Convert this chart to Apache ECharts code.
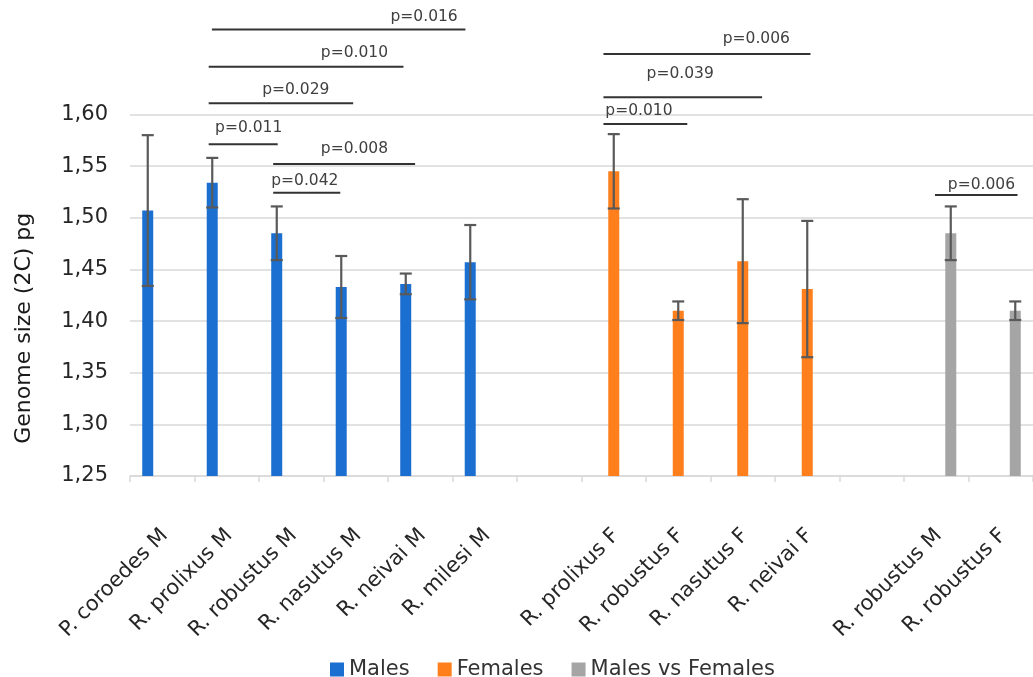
<!DOCTYPE html>
<html>
<head>
<meta charset="utf-8">
<script src="https://cdn.jsdelivr.net/npm/echarts@6/dist/echarts.min.js"></script>
<style>
html,body{margin:0;padding:0;background:#fff;}
#c{width:1033px;height:677px;}
</style>
</head>
<body>
<div id="c"></div>
<script>
// ---- data ----
const categories = ['P. coroedes M','R. prolixus M','R. robustus M','R. nasutus M','R. neivai M','R. milesi M','',
  'R. prolixus F','R. robustus F','R. nasutus F','R. neivai F','','R. robustus M','R. robustus F'];
const males      = [1.507,1.534,1.485,1.433,1.436,1.457,null,null,null,null,null,null,null,null];
const malesErr   = [0.073,0.024,0.026,0.030,0.010,0.036,null,null,null,null,null,null,null,null];
const females    = [null,null,null,null,null,null,null,1.545,1.410,1.458,1.431,null,null,null];
const femalesErr = [null,null,null,null,null,null,null,0.036,0.009,0.060,0.066,null,null,null];
const mvf        = [null,null,null,null,null,null,null,null,null,null,null,null,1.485,1.410];
const mvfErr     = [null,null,null,null,null,null,null,null,null,null,null,null,0.026,0.009];
const yTicks = {min:1.25, max:1.60, step:0.05};
// significance brackets: [from (category units), to, y value, label, label centre x, label y]
const brackets = [
  [0.77, 4.70, 1.6824, 'p=0.016', 4.06, 1.6943],
  [0.72, 3.74, 1.6462, 'p=0.010', 2.98, 1.6595],
  [0.72, 2.96, 1.6108, 'p=0.029', 2.07, 1.6237],
  [0.72, 1.79, 1.5711, 'p=0.011', 1.34, 1.5872],
  [1.72, 3.92, 1.5520, 'p=0.008', 2.98, 1.5665],
  [1.72, 2.76, 1.5243, 'p=0.042', 2.21, 1.5356],
  [6.84, 10.05, 1.6585, 'p=0.006', 9.21, 1.6730],
  [6.84, 9.30, 1.6166, 'p=0.039', 8.03, 1.6392],
  [6.84, 8.14, 1.5908, 'p=0.010', 7.39, 1.6033],
  [11.98, 13.26, 1.5220, 'p=0.006', 12.70, 1.5317]
];

// ---- styles ----
const FONT = '"DejaVu Sans"';
const colors = {m:'#1b6fd0', f:'#ff7f1c', g:'#a5a5a5'};
const BARW = 11, OFF = 14.5;

function errData(vals, errs){
  const out=[];
  vals.forEach((v,i)=>{ if(v!=null) out.push([i, v-errs[i], v+errs[i]]); });
  return out;
}
function errSeries(name, vals, errs, offset){
  return {
    type:'custom', name:name, z:5, silent:true,
    data: errData(vals, errs),
    renderItem: function(params, api){
      const i = api.value(0);
      const lo = api.coord([i, api.value(1)]);
      const hi = api.coord([i, api.value(2)]);
      const x = lo[0] + offset, cap = 6;
      const st = {stroke:'#595959', lineWidth:2.2};
      return {type:'group', children:[
        {type:'line', shape:{x1:x, y1:lo[1], x2:x, y2:hi[1]}, style:st},
        {type:'line', shape:{x1:x-cap, y1:lo[1], x2:x+cap, y2:lo[1]}, style:st},
        {type:'line', shape:{x1:x-cap, y1:hi[1], x2:x+cap, y2:hi[1]}, style:st}
      ]};
    }
  };
}

const chart = echarts.init(document.getElementById('c'));
chart.setOption({
  animation:false,
  backgroundColor:'#fff',
  grid:{left:130, top:114.5, height:361.5, width:915.6, containLabel:false},
  legend:{
    data:['Males','Females','Males vs Females'],
    left:325, top:654, itemWidth:14, itemHeight:14, itemGap:28,
    icon:'rect',
    textStyle:{fontFamily:FONT, fontSize:21, color:'#333'}
  },
  xAxis:{
    type:'category', data:categories,
    axisLine:{lineStyle:{color:'#d9d9d9', width:1.5}},
    axisTick:{show:true, length:6, lineStyle:{color:'#d9d9d9', width:1.5}},
    axisLabel:{interval:0, rotate:45, margin:44, verticalAlign:'top', align:'right',
      padding:[0,7,0,0], fontFamily:FONT, fontSize:21, color:'#262626'}
  },
  yAxis:{
    type:'value', min:yTicks.min, max:yTicks.max, interval:yTicks.step,
    name:'Genome size (2C) pg', nameLocation:'middle', nameGap:95,
    nameTextStyle:{fontFamily:FONT, fontSize:22, color:'#1a1a1a', padding:[0,66,0,0]},
    axisLine:{show:false}, axisTick:{show:false},
    splitLine:{lineStyle:{color:'#d9d9d9', width:1.5}},
    axisLabel:{margin:22, fontFamily:FONT, fontSize:21, color:'#262626',
      formatter:v=>v.toFixed(2).replace('.',',')}
  },
  series:[
    {type:'bar', name:'Males', data:males, barWidth:BARW, barGap:'32%', itemStyle:{color:colors.m}},
    {type:'bar', name:'Females', data:females, barWidth:BARW, barGap:'32%', itemStyle:{color:colors.f}},
    {type:'bar', name:'Males vs Females', data:mvf, barWidth:BARW, barGap:'32%', itemStyle:{color:colors.g}},
    errSeries('errM', males, malesErr, -OFF),
    errSeries('errF', females, femalesErr, 0),
    errSeries('errG', mvf, mvfErr, OFF),
    {
      type:'custom', name:'brackets', clip:false, silent:true, z:6,
      data: brackets.map(b=>[b[0], b[1], b[2], b[4], b[5]]),
      renderItem:function(params, api){
        const b = brackets[params.dataIndex];
        const bw = api.size([1,0])[0];
        const x0 = api.coord([0, api.value(2)]);
        const xl = api.coord([0, api.value(4)]);
        const X = u => x0[0] + u*bw;
        return {type:'group', children:[
          {type:'line', shape:{x1:X(api.value(0)), y1:x0[1], x2:X(api.value(1)), y2:x0[1]},
            style:{stroke:'#333', lineWidth:2}},
          {type:'text', x:X(api.value(3)), y:xl[1],
            style:{text:b[3], fill:'#404040', font:'15.5px '+FONT, align:'center', verticalAlign:'middle'}}
        ]};
      }
    }
  ]
});
</script>
</body>
</html>
